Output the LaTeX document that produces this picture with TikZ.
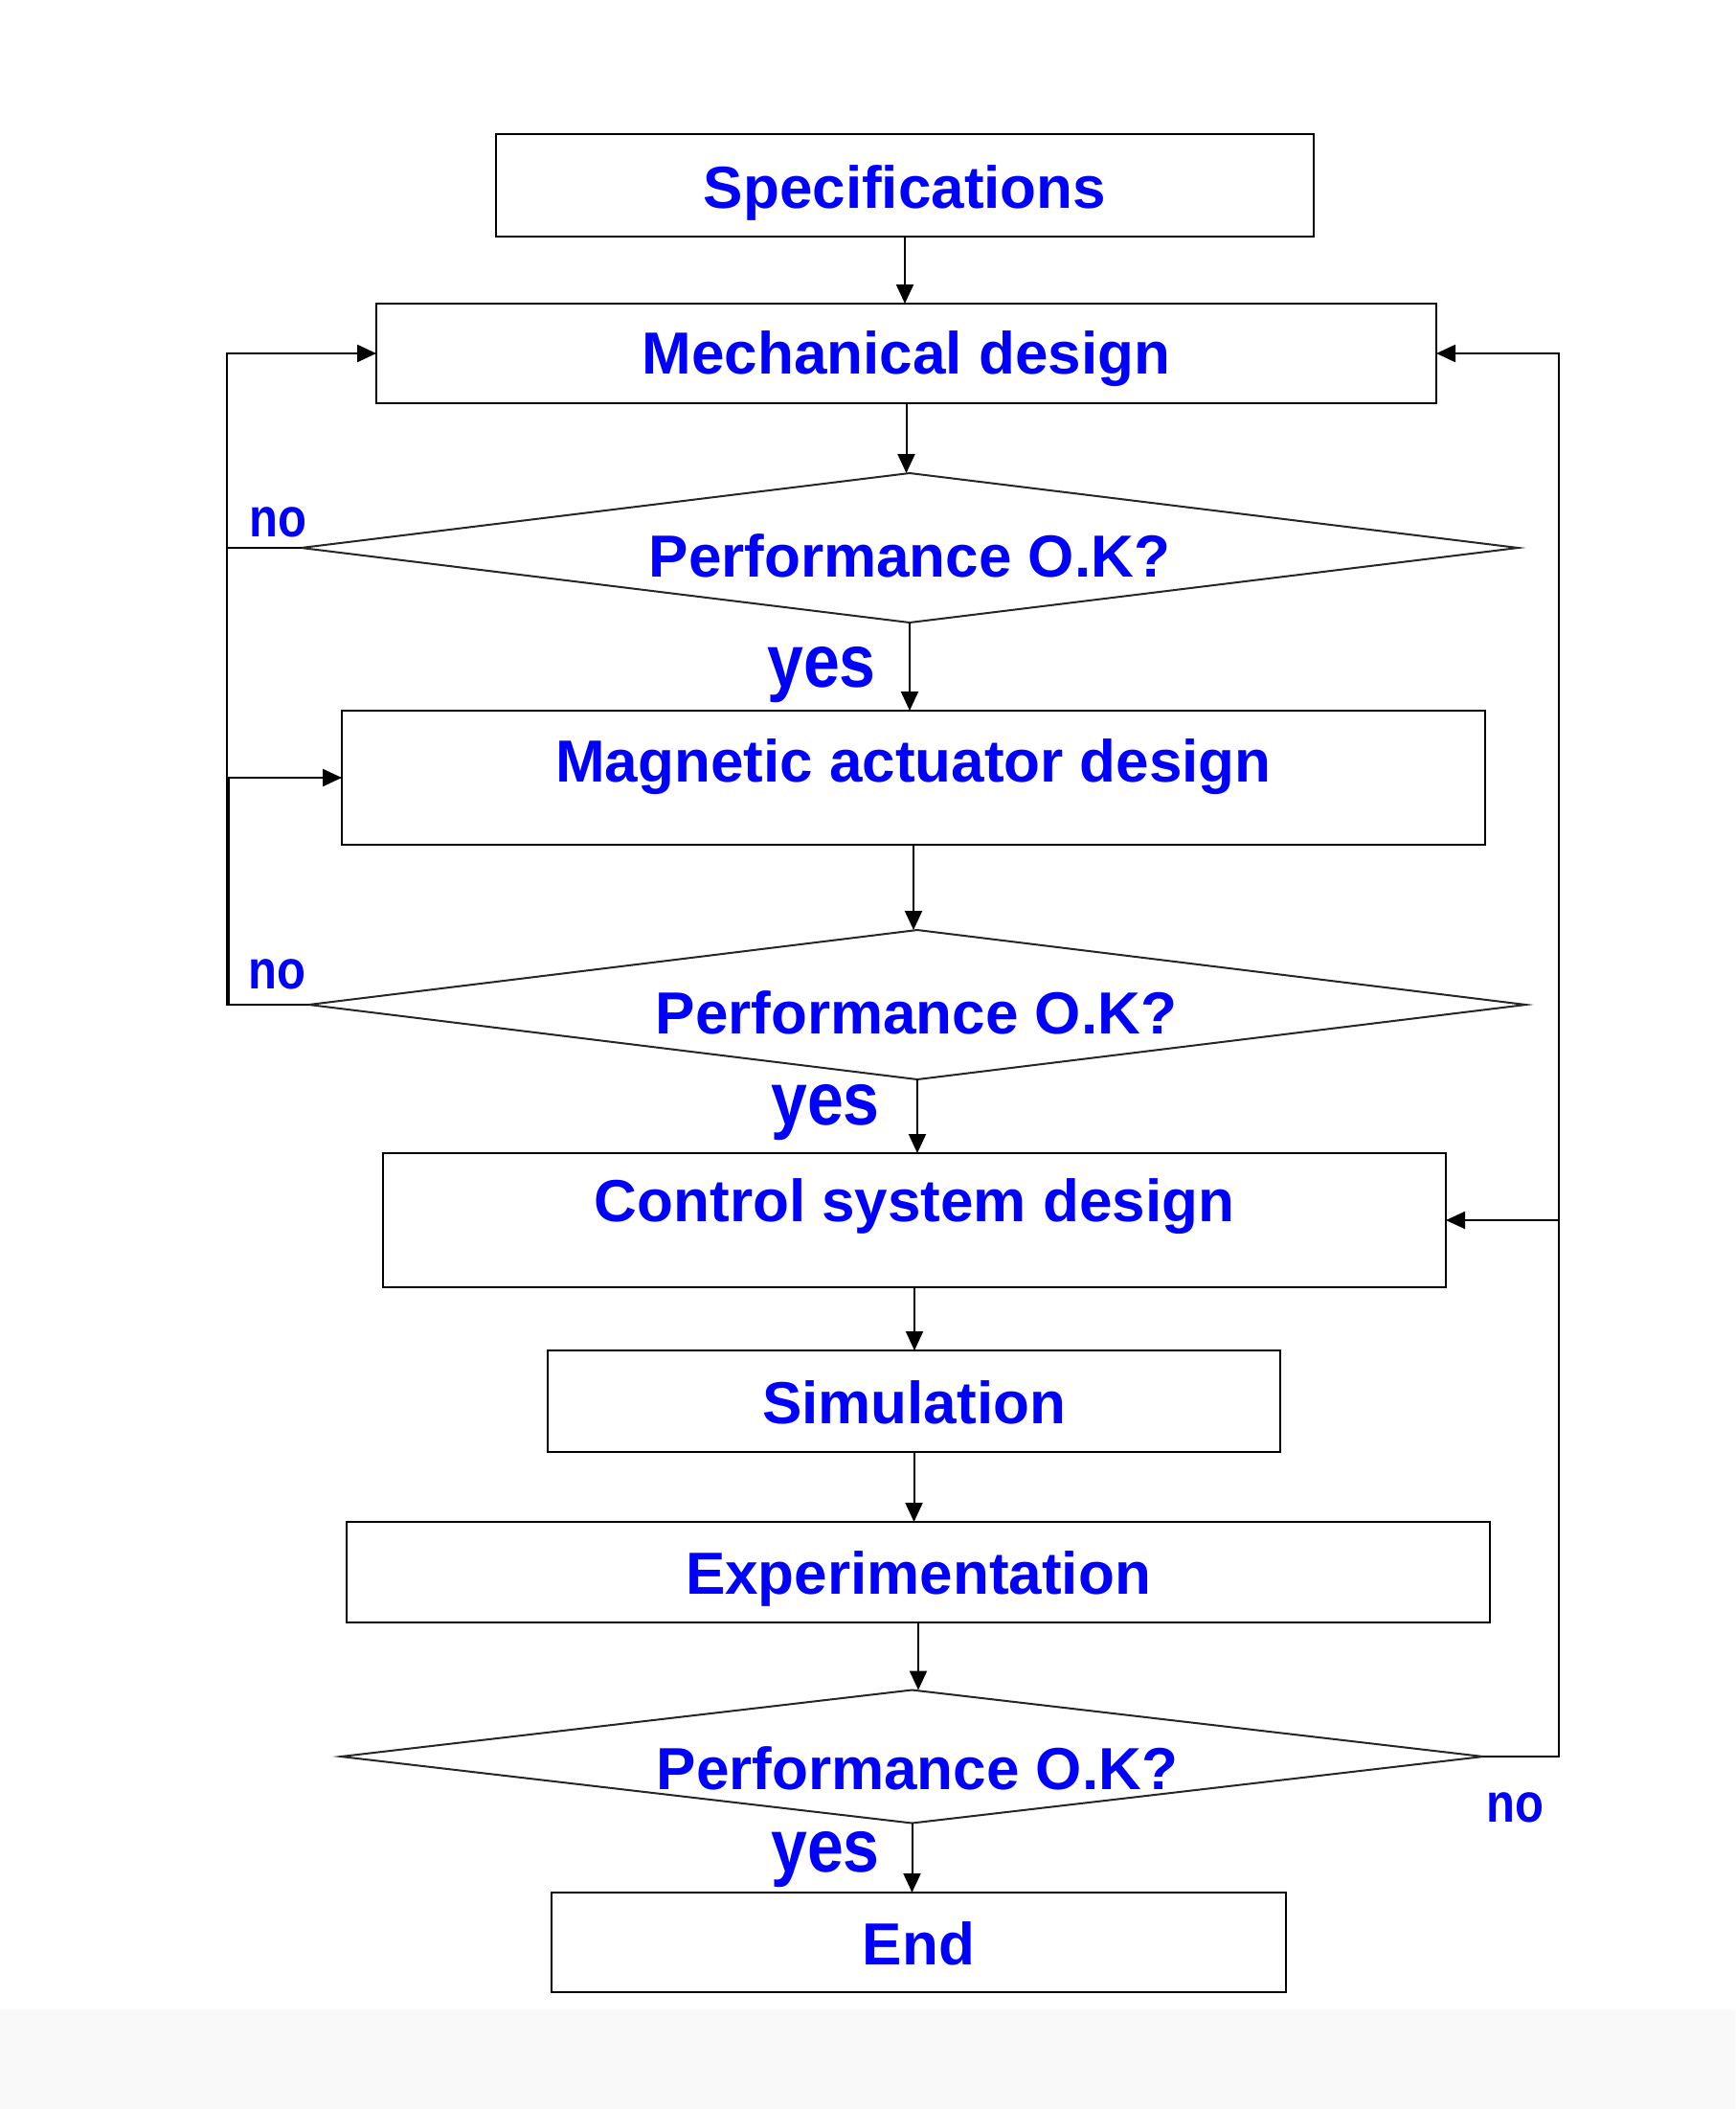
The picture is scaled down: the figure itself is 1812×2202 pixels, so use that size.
\documentclass[tikz,border=0pt]{standalone}
\usepackage{fontspec}
\setmainfont{Liberation Sans}
\usetikzlibrary{shapes.geometric,arrows.meta}
\definecolor{txtblue}{RGB}{0,0,255}
\begin{document}
\begin{tikzpicture}[x=0.5pt,y=-0.5pt,
  box/.style={draw=black,line width=1.4pt,inner sep=0pt,outer sep=0pt},
  dec/.style={draw=black!85,line width=1pt,diamond,aspect=8,inner sep=0pt,outer sep=0pt},
  lbl/.style={font=\bfseries\fontsize{31}{37}\selectfont,text=txtblue,inner sep=0pt},
  yeslbl/.style={font=\bfseries\fontsize{34}{40}\selectfont,text=txtblue,inner sep=0pt},
  nolbl/.style={font=\bfseries\fontsize{24.5}{30}\selectfont,text=txtblue,inner sep=0pt},
  conn/.style={draw=black,line width=1pt,-{Triangle[length=10pt,width=9pt]}},
  loopline/.style={draw=black,line width=1.2pt}]
\useasboundingbox (0,0) rectangle (1812,2202);
\fill[white] (0,0) rectangle (1812,2202);
\fill[gray!5] (0,2098) rectangle (1812,2202);

% boxes and decisions
\node[box,minimum width=427pt,minimum height=53.5pt] (spec) at (945,193.5) {};
\node[lbl] (spect) at (945,201) {Specifications};
\node[box,minimum width=553.5pt,minimum height=52pt] (mech) at (946.5,369) {};
\node[lbl] (mecht) at (946.5,375) {Mechanical design};
\node[dec,minimum width=635.5pt,minimum height=78pt] (d1) at (950,572) {};
\node[lbl] (d1t) at (950,580) {Performance O.K?};
\node[box,minimum width=597pt,minimum height=70pt] (mag) at (954,812) {};
\node[lbl] (magt) at (954,801) {Magnetic actuator design};
\node[dec,minimum width=635.5pt,minimum height=78pt] (d2) at (958,1049) {};
\node[lbl] (d2t) at (957,1057) {Performance O.K?};
\node[box,minimum width=555pt,minimum height=70pt] (ctrl) at (955,1274) {};
\node[lbl] (ctrlt) at (955,1260) {Control system design};
\node[box,minimum width=382.5pt,minimum height=53pt] (sim) at (954.5,1463) {};
\node[lbl] (simt) at (954.5,1464) {Simulation};
\node[box,minimum width=597pt,minimum height=52.5pt] (exp) at (959,1641.5) {};
\node[lbl] (expt) at (959,1648) {Experimentation};
\node[dec,minimum width=596.5pt,minimum height=69.5pt] (d3) at (952.5,1834) {};
\node[lbl] (d3t) at (958,1846) {Performance O.K?};
\node[box,minimum width=383.5pt,minimum height=52pt] (end) at (959.5,2028) {};
\node[lbl] (endt) at (959.5,2029) {End};

% labels
\node[yeslbl] (y1) at (858,705) {\scalebox{1}[1.15]{yes}};
\node[yeslbl] (y2) at (862,1162) {\scalebox{1}[1.15]{yes}};
\node[yeslbl] (y3) at (862,1942) {\scalebox{1}[1.15]{yes}};
\node[nolbl] (n1) at (290,545) {\scalebox{1}[1.17]{no}};
\node[nolbl] (n2) at (289,1017) {\scalebox{1}[1.17]{no}};
\node[nolbl] (n3) at (1582,1887) {\scalebox{1}[1.17]{no}};

% side rails
\coordinate (L) at (237,0);
\coordinate (L2) at (239,0);
\coordinate (R) at (1628,0);

% main flow
\draw[conn] (spec.south) -- (spec.south |- mech.north);
\draw[conn] (mech.south) -- (mech.south |- d1.north);
\draw[conn] (d1.south) -- (d1.south |- mag.north);
\draw[conn] (mag.south) -- (mag.south |- d2.north);
\draw[conn] (d2.south) -- (d2.south |- ctrl.north);
\draw[conn] (ctrl.south) -- (ctrl.south |- sim.north);
\draw[conn] (sim.south) -- (sim.south |- exp.north);
\draw[conn] (exp.south) -- (exp.south |- d3.north);
\draw[conn] (d3.south) -- (d3.south |- end.north);

% loops
\draw[loopline,-{Triangle[length=10pt,width=9pt]}] (d1.west) -- (d1.west -| L) |- (mech.west);
\draw[loopline] (d1.west -| L) -- (d2.west -| L) -- (d2.west);
\draw[loopline,-{Triangle[length=10pt,width=9pt]}] (d2.west -| L2) |- (mag.west);
\draw[loopline,-{Triangle[length=10pt,width=9pt]}] (d3.east) -- (d3.east -| R) |- (mech.east);
\draw[conn] (ctrl.east -| R) -- (ctrl.east);
\end{tikzpicture}
\end{document}
